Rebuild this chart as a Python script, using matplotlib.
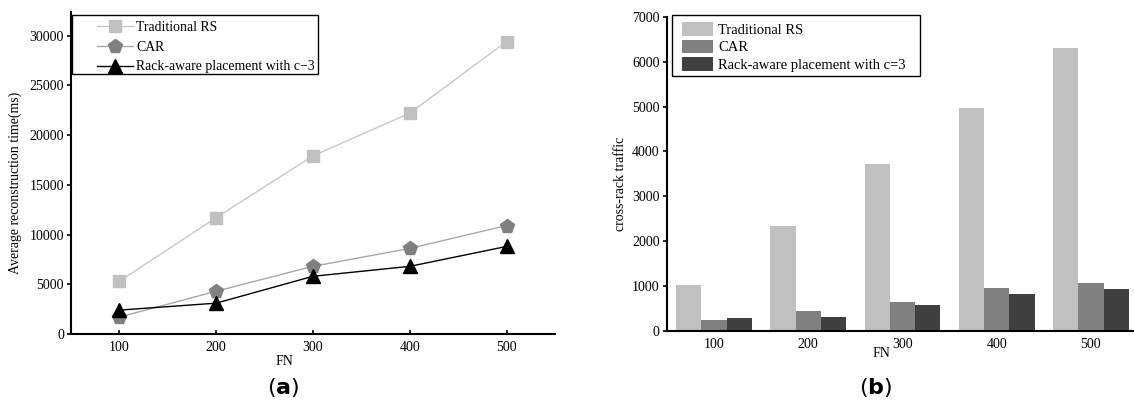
import matplotlib
matplotlib.use("Agg")
import matplotlib.pyplot as plt
from matplotlib.patches import Rectangle
import numpy as np

fn = [100, 200, 300, 400, 500]
fn_labels = ["100", "200", "300", "400", "500"]

# (a) average reconstruction time (ms)
time_rs = [5300, 11700, 17900, 22200, 29400]
time_car = [1700, 4300, 6800, 8600, 10900]
time_rack = [2400, 3100, 5800, 6800, 8800]

# (b) cross-rack traffic
traffic_rs = [1030, 2330, 3720, 4980, 6310]
traffic_car = [240, 440, 650, 950, 1060]
traffic_rack = [280, 320, 570, 830, 930]

names = ["Traditional RS", "CAR", "Rack-aware placement with c=3"]

plt.rcParams['font.family'] = ['Liberation Serif', 'DejaVu Serif']
fontsize = 10

fig = plt.figure(figsize=(11.34, 4.08), dpi=100)

# ---- panel (a)
ax1 = fig.add_axes([0.0626, 0.1814, 0.4268, 0.790])
ax1.plot(fn, time_rs, color='#c8c8c8', lw=1, marker='s', ms=8.5,
         markerfacecolor='#c0c0c0', markeredgecolor='#c0c0c0', label=names[0])
ax1.plot(fn, time_car, color='#a8a8a8', lw=1, marker='p', ms=10,
         markerfacecolor='#808080', markeredgecolor='#808080', label=names[1])
ax1.plot(fn, time_rack, color='black', lw=1, marker='^', ms=9.5,
         label="Rack-aware placement with c\u22123")
ax1.set_xlim(50, 550)
ax1.set_ylim(0, 32400)
ax1.set_xticks(fn)
ax1.set_xticklabels(fn_labels)
ax1.set_yticks(np.arange(0, 30001, 5000))
ax1.set_ylabel("Average reconstruction time(ms)", fontsize=fontsize)
ax1.yaxis.set_label_coords(-0.101, 0.469)
ax1.set_xlabel("FN", fontsize=fontsize)
ax1.xaxis.set_label_coords(0.442, -0.065)
ax1.legend(loc='upper left', bbox_to_anchor=(0.0537, 0.972), fontsize=9.9,
           frameon=False, borderaxespad=0, borderpad=0, handlelength=2.65,
           labelspacing=0.5, handletextpad=0.2)
ax1.add_patch(Rectangle((0.002, 0.806), 0.508, 0.184, transform=ax1.transAxes,
                        fill=False, edgecolor='black', lw=1, clip_on=False, zorder=5))

# ---- panel (b)
ax2 = fig.add_axes([0.588, 0.1887, 0.411, 0.770])
x = np.arange(len(fn))
w = 0.268
ax2.bar(x - w, traffic_rs, w, color='#c0c0c0', label=names[0])
ax2.bar(x, traffic_car, w, color='#808080', label=names[1])
ax2.bar(x + w, traffic_rack, w, color='#404040', label=names[2])
ax2.set_xlim(-0.5, 4.445)
ax2.set_ylim(0, 7000)
ax2.set_xticks(x)
ax2.set_xticklabels(fn_labels)
ax2.set_yticks(np.arange(0, 7001, 1000))
ax2.set_ylabel("cross-rack traffic", fontsize=fontsize)
ax2.yaxis.set_label_coords(-0.085, 0.468)
ax2.set_xlabel("FN", fontsize=fontsize)
ax2.xaxis.set_label_coords(0.46, -0.051)
ax2.legend(loc='upper left', bbox_to_anchor=(0.0328, 0.983), fontsize=10.5,
           frameon=False, borderaxespad=0, borderpad=0, handlelength=2.12,
           handleheight=1.05, labelspacing=0.19, handletextpad=0.35)
ax2.add_patch(Rectangle((0.0114, 0.811), 0.532, 0.194, transform=ax2.transAxes,
                        fill=False, edgecolor='black', lw=1, clip_on=False, zorder=5))

for ax in (ax1, ax2):
    ax.spines['top'].set_visible(False)
    ax.spines['right'].set_visible(False)
    ax.spines['left'].set_linewidth(1.5)
    ax.spines['bottom'].set_linewidth(1.5)
    ax.tick_params(axis='both', labelsize=fontsize, width=1.2, length=3, pad=2)
    ax.tick_params(axis='x', direction='in', pad=5)
ax2.tick_params(axis='x', length=0, pad=5)

fig.text(0.250, 0.035, r"($\mathbf{a}$)", ha='center', fontsize=16,
         family=['DejaVu Sans'])
fig.text(0.772, 0.035, r"($\mathbf{b}$)", ha='center', fontsize=16,
         family=['DejaVu Sans'])

fig.savefig("out.png", dpi=100)
